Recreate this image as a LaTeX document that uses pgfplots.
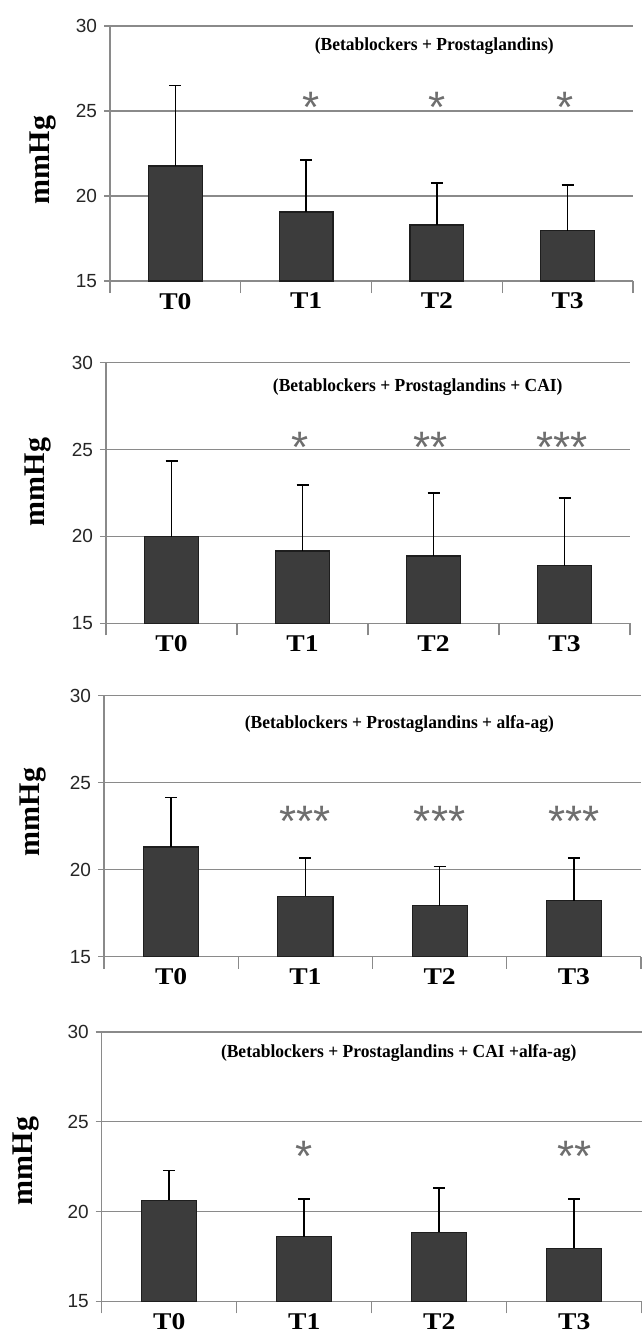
\documentclass[border=0pt]{standalone}
\usepackage{fontspec}
\setmainfont{Liberation Sans}
\newfontfamily\serif{Liberation Serif}
\usepackage{graphicx}
\usepackage{pgfplots}
\pgfplotsset{compat=1.18}

\definecolor{gridgray}{HTML}{8A8A8A}
\definecolor{stargray}{HTML}{6E6E6E}
\definecolor{barfill}{HTML}{3C3C3C}
\definecolor{baredge}{HTML}{1E1E1E}

\newcommand{\tl}[1]{\scalebox{1.15}[1]{\serif\bfseries\fontsize{12}{13}\selectfont #1}}

\pgfplotsset{
  panel/.style={
    scale only axis,
    ymin=15, ymax=30,
    xmin=-0.5, xmax=3.5,
    ytick={15,20,25,30},
    /pgf/number format/assume math mode=true,
    yticklabel style={font=\fontsize{9.5}{10}\selectfont, text=black!85},
    axis x line*=bottom,
    axis y line*=left,
    axis line style={draw=gridgray, line width=0.65pt},
    ymajorgrids,
    grid style={draw=gridgray, line width=0.65pt},
    ytick style={draw=gridgray, line width=0.65pt},
    major tick length=3pt,
    tick align=outside,
    xtick={0,1,2,3},
    xticklabels={\tl{T0},\tl{T1},\tl{T2},\tl{T3}},
    xtick style={draw=none},
    xticklabel style={yshift=0.5pt},
    extra x ticks={-0.5,0.5,1.5,2.5,3.5},
    extra x tick labels={},
    extra x tick style={major tick length=6pt, xtick style={draw=gridgray, line width=0.65pt}},
    ylabel={\serif\bfseries\fontsize{15}{16}\selectfont mmHg},
    ybar,
    bar width=0.41,
    clip=false,
  },
  barstyle/.style={
    draw=baredge, line width=0.6pt, fill=barfill,
    error bars/.cd, y dir=plus, y explicit, error mark=-,
    error bar style={line width=0.8pt, black},
    error mark options={line width=0.8pt, mark size=3pt, rotate=90, black},
  },
}
\newcommand{\ptitle}[1]{\scalebox{0.95}[1]{\serif\bfseries\fontsize{9.2}{10}\selectfont #1}}
\newcommand{\stars}[1]{\fontsize{22}{22}\selectfont\textcolor{stargray}{#1}}

\begin{document}
\begin{tikzpicture}
\useasboundingbox (0,0) rectangle (321.5pt,-666pt);

% Panel 1
\begin{axis}[panel, at={(55pt,-140.5pt)}, anchor=south west, width=261.5pt, height=127.5pt,
  ylabel style={at={(axis description cs:-0.128,0.475)}, anchor=center}]
\addplot[barstyle] coordinates {(0,21.76) +- (0,4.74) (1,19.06) +- (0,3.04) (2,18.3) +- (0,2.45) (3,17.96) +- (0,2.69)};
\node at (axis description cs:0.62,0.92) {\ptitle{(Betablockers + Prostaglandins)}};
\node at (axis cs:1.04,25.2) {\stars{*}};
\node at (axis cs:2.0,25.2) {\stars{*}};
\node at (axis cs:2.98,25.2) {\stars{*}};
\end{axis}

% Panel 2
\begin{axis}[panel, at={(53pt,-311.65pt)}, anchor=south west, width=262pt, height=130.3pt,
  ylabel style={at={(axis description cs:-0.130,0.542)}, anchor=center}]
\addplot[barstyle] coordinates {(0,19.98) +- (0,4.36) (1,19.16) +- (0,3.79) (2,18.87) +- (0,3.62) (3,18.31) +- (0,3.91)};
\node at (axis description cs:0.595,0.907) {\ptitle{(Betablockers + Prostaglandins + CAI)}};
\node at (axis cs:0.98,25.1) {\stars{*}};
\node at (axis cs:1.98,25.1) {\stars{**}};
\node at (axis cs:2.98,25.1) {\stars{***}};
\end{axis}

% Panel 3
\begin{axis}[panel, at={(52pt,-478.35pt)}, anchor=south west, width=268.5pt, height=130.5pt,
  ylabel style={at={(axis description cs:-0.133,0.554)}, anchor=center}]
\addplot[barstyle] coordinates {(0,21.3) +- (0,2.85) (1,18.48) +- (0,2.19) (2,17.94) +- (0,2.25) (3,18.23) +- (0,2.44)};
\node at (axis description cs:0.55,0.893) {\ptitle{(Betablockers + Prostaglandins + alfa-ag)}};
\node at (axis cs:1.0,22.8) {\stars{***}};
\node at (axis cs:2.0,22.8) {\stars{***}};
\node at (axis cs:3.0,22.8) {\stars{***}};
\end{axis}

% Panel 4
\begin{axis}[panel, at={(50.85pt,-650.65pt)}, anchor=south west, width=270pt, height=134.65pt,
  ylabel style={at={(axis description cs:-0.140,0.521)}, anchor=center}]
\addplot[barstyle] coordinates {(0,20.63) +- (0,1.65) (1,18.59) +- (0,2.11) (2,18.85) +- (0,2.45) (3,17.96) +- (0,2.74)};
\node at (axis description cs:0.55,0.922) {\ptitle{(Betablockers + Prostaglandins + CAI +alfa-ag)}};
\node at (axis cs:1.0,23.1) {\stars{*}};
\node at (axis cs:3.0,23.1) {\stars{**}};
\end{axis}
\end{tikzpicture}
\end{document}
